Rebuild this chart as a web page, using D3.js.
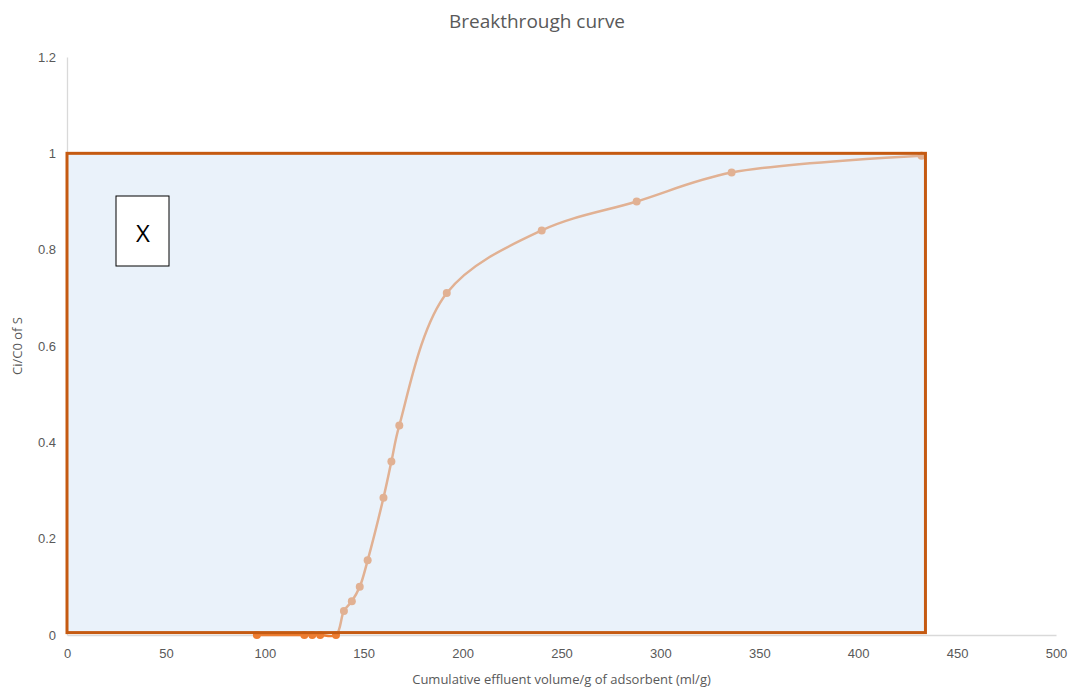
<!DOCTYPE html>
<html>
<head>
<meta charset="utf-8">
<script src="https://cdn.jsdelivr.net/npm/d3@7"></script>
<style>
  html, body { margin: 0; padding: 0; background: #fff; }
  svg { display: block; font-family: "Open Sans", "Liberation Sans", sans-serif; }
</style>
</head>
<body>
<svg id="chart" width="1070" height="690"></svg>
<script>
// Cumulative effluent volume per gram of adsorbent (ml/g)
const volume = [96, 120, 124, 128, 136, 140, 144, 148, 152, 160, 164, 168, 192, 240, 288, 336, 432];
// Ci/C0 of S at each volume
const ratio  = [0, 0, 0, 0, 0, 0.05, 0.07, 0.10, 0.155, 0.285, 0.36, 0.435, 0.71, 0.84, 0.90, 0.96, 0.995];

const xTicks = [0, 50, 100, 150, 200, 250, 300, 350, 400, 450, 500];
const yTicks = [0, 0.2, 0.4, 0.6, 0.8, 1, 1.2];

// Highlighted operating region (data units)
const regionX = [0, 434];
const regionY = [0.005, 1];

const svg = d3.select("#chart");
const W = 1070, H = 690;
const margin = { left: 67, right: 14, top: 57, bottom: 55 };

const x = d3.scaleLinear().domain([0, 500]).range([margin.left, W - margin.right]);
const y = d3.scaleLinear().domain([0, 1.2]).range([H - margin.bottom, margin.top]);

const grey = "#595959";
const axisGrey = "#d9d9d9";
const orange = "#ED7D31";

// Title
svg.append("text")
  .attr("x", 537).attr("y", 28)
  .attr("text-anchor", "middle")
  .attr("fill", grey)
  .style("font-size", "19px")
  .text("Breakthrough curve");

// Axes
const xAxis = svg.append("g")
  .attr("transform", `translate(0,${y(0)})`)
  .call(d3.axisBottom(x).tickValues(xTicks).tickSize(0).tickPadding(14).tickFormat(d3.format("d")));
xAxis.select(".domain").attr("stroke", axisGrey).attr("stroke-width", 1.3);
xAxis.selectAll("text").attr("fill", grey).style("font-size", "13px");

const yAxis = svg.append("g")
  .attr("transform", `translate(${x(0)},0)`)
  .call(d3.axisLeft(y).tickValues(yTicks).tickSize(0).tickPadding(11).tickFormat(d => d3.format("~g")(d)));
yAxis.select(".domain").attr("stroke", axisGrey).attr("stroke-width", 1.3);
yAxis.selectAll("text").attr("fill", grey).style("font-size", "13px");

// Axis titles
svg.append("text")
  .attr("x", (x(0) + x(500)) / 2).attr("y", 684)
  .attr("text-anchor", "middle")
  .attr("fill", grey)
  .style("font-size", "13px")
  .text("Cumulative effluent volume/g of adsorbent (ml/g)");

svg.append("text")
  .attr("transform", `translate(22,${(y(0) + y(1.2)) / 2}) rotate(-90)`)
  .attr("text-anchor", "middle")
  .attr("fill", grey)
  .style("font-size", "13px")
  .text("Ci/C0 of S");

// Breakthrough series
const pts = volume.map((v, i) => [v, ratio[i]]);
const line = d3.line()
  .x(d => x(d[0])).y(d => y(d[1]))
  .curve(d3.curveCatmullRom.alpha(0.5));

svg.append("path")
  .datum(pts)
  .attr("d", line)
  .attr("fill", "none")
  .attr("stroke", orange)
  .attr("stroke-width", 2.5);

svg.selectAll("circle.pt")
  .data(pts)
  .join("circle")
  .attr("class", "pt")
  .attr("cx", d => x(d[0]))
  .attr("cy", d => y(d[1]))
  .attr("r", 4)
  .attr("fill", orange);

// Translucent highlighted region
svg.append("rect")
  .attr("x", x(regionX[0]))
  .attr("y", y(regionY[1]))
  .attr("width", x(regionX[1]) - x(regionX[0]))
  .attr("height", y(regionY[0]) - y(regionY[1]))
  .attr("fill", "rgba(214,230,245,0.5)")
  .attr("stroke", "#C55A11")
  .attr("stroke-width", 3);

// Label box
const bx = 116, by = 196;
svg.append("rect")
  .attr("x", bx).attr("y", by)
  .attr("width", 53).attr("height", 70)
  .attr("fill", "#fff")
  .attr("stroke", "#000")
  .attr("stroke-width", 1);
svg.append("text")
  .attr("x", bx + 27).attr("y", by + 46)
  .attr("text-anchor", "middle")
  .attr("fill", "#000")
  .style("font-size", "24px")
  .text("X");
</script>
</body>
</html>
